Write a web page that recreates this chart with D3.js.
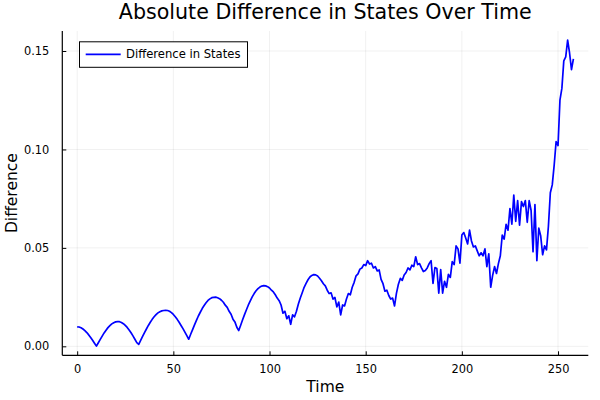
<!DOCTYPE html>
<html>
<head>
<meta charset="utf-8">
<script src="https://cdn.jsdelivr.net/npm/d3@7"></script>
<style>
  html, body { margin: 0; padding: 0; background: #fff; }
  svg { display: block; font-family: "DejaVu Sans", sans-serif; }
</style>
</head>
<body>
<svg id="chart" width="600" height="400"></svg>
<script>
const chartTitle = "Absolute Difference in States Over Time";
const xLabel = "Time";
const yLabel = "Difference";
const seriesName = "Difference in States";
const xTicks = [0, 50, 100, 150, 200, 250];
const yTicks = [0.00, 0.05, 0.10, 0.15];
const yTickLabels = ["0.00", "0.05", "0.10", "0.15"];

// absolute difference at time steps 0..258
const diffValues = [
  0.0099, 0.0098, 0.0094, 0.0088, 0.0080, 0.0070, 0.0058, 0.0045, 0.0031, 0.0016,
  0.0001, 0.0018, 0.0035, 0.0052, 0.0068, 0.0082, 0.0095, 0.0105, 0.0114, 0.0120,
  0.0124, 0.0125, 0.0125, 0.0121, 0.0115, 0.0106, 0.0096, 0.0083, 0.0069, 0.0053,
  0.0036, 0.0019, 0.0010, 0.0030, 0.0050, 0.0070, 0.0088, 0.0106, 0.0122, 0.0137,
  0.0150, 0.0161, 0.0170, 0.0176, 0.0180, 0.0182, 0.0183, 0.0182, 0.0178, 0.0171,
  0.0162, 0.0150, 0.0137, 0.0122, 0.0106, 0.0090, 0.0072, 0.0054, 0.0036, 0.0061,
  0.0085, 0.0109, 0.0132, 0.0154, 0.0173, 0.0192, 0.0207, 0.0221, 0.0233, 0.0241,
  0.0247, 0.0249, 0.0250, 0.0247, 0.0242, 0.0234, 0.0224, 0.0209, 0.0198, 0.0178,
  0.0163, 0.0138, 0.0124, 0.0097, 0.0080, 0.0107, 0.0135, 0.0161, 0.0186, 0.0210,
  0.0231, 0.0251, 0.0268, 0.0282, 0.0293, 0.0301, 0.0306, 0.0308, 0.0307, 0.0303,
  0.0296, 0.0285, 0.0276, 0.0262, 0.0245, 0.0232, 0.0210, 0.0168, 0.0178, 0.0140,
  0.0155, 0.0112, 0.0160, 0.0150, 0.0178, 0.0215, 0.0245, 0.0272, 0.0300, 0.0320,
  0.0338, 0.0352, 0.0360, 0.0364, 0.0363, 0.0357, 0.0346, 0.0333, 0.0318, 0.0307,
  0.0285, 0.0268, 0.0272, 0.0240, 0.0248, 0.0200, 0.0225, 0.0160, 0.0210, 0.0205,
  0.0240, 0.0268, 0.0262, 0.0300, 0.0325, 0.0358, 0.0368, 0.0392, 0.0398, 0.0415,
  0.0410, 0.0435, 0.0418, 0.0422, 0.0398, 0.0405, 0.0383, 0.0388, 0.0340, 0.0318,
  0.0280, 0.0285, 0.0258, 0.0240, 0.0245, 0.0205, 0.0270, 0.0315, 0.0345, 0.0335,
  0.0362, 0.0375, 0.0398, 0.0388, 0.0412, 0.0405, 0.0455, 0.0415, 0.0420, 0.0398,
  0.0380, 0.0385, 0.0398, 0.0420, 0.0435, 0.0320, 0.0400, 0.0395, 0.0270, 0.0390,
  0.0270, 0.0330, 0.0300, 0.0365, 0.0350, 0.0430, 0.0415, 0.0510, 0.0495, 0.0422,
  0.0565, 0.0578, 0.0550, 0.0520, 0.0590, 0.0535, 0.0505, 0.0510, 0.0485, 0.0460,
  0.0475, 0.0460, 0.0495, 0.0405, 0.0470, 0.0300, 0.0360, 0.0405, 0.0370, 0.0420,
  0.0460, 0.0565, 0.0545, 0.0620, 0.0590, 0.0700, 0.0620, 0.0768, 0.0635, 0.0740,
  0.0615, 0.0735, 0.0710, 0.0740, 0.0630, 0.0740, 0.0690, 0.0480, 0.0720, 0.0435,
  0.0600, 0.0560, 0.0465, 0.0510, 0.0490, 0.0610, 0.0780, 0.0820, 0.0920, 0.1040,
  0.1020, 0.1250, 0.1310, 0.1450, 0.1470, 0.1555, 0.1490, 0.1405, 0.1460
];
const timeSteps = d3.range(diffValues.length);

const svg = d3.select("#chart");
const plot = { left: 62.3, right: 588.3, top: 31, bottom: 355.3 };

const xExt = d3.extent(timeSteps);
const yExt = d3.extent(diffValues);
const xPad = (xExt[1] - xExt[0]) * 0.03;
const yPad = (yExt[1] - yExt[0]) * 0.03;

const x = d3.scaleLinear().domain([xExt[0] - xPad, xExt[1] + xPad]).range([plot.left, plot.right]);
const y = d3.scaleLinear().domain([yExt[0] - yPad, yExt[1] + yPad]).range([plot.bottom, plot.top]);

// grid
const grid = svg.append("g").attr("stroke", "#000").attr("stroke-opacity", 0.1).attr("stroke-width", 0.6);
grid.selectAll("line.vx").data(xTicks).join("line")
  .attr("x1", d => x(d)).attr("x2", d => x(d))
  .attr("y1", plot.top).attr("y2", plot.bottom);
grid.selectAll("line.hy").data(yTicks).join("line")
  .attr("x1", plot.left).attr("x2", plot.right)
  .attr("y1", d => y(d)).attr("y2", d => y(d));

// axes
const xAxis = d3.axisBottom(x).tickValues(xTicks).tickSize(-4).tickPadding(10).tickFormat(d3.format("d"));
const yAxis = d3.axisLeft(y).tickValues(yTicks).tickSize(-4).tickPadding(13)
  .tickFormat((d, i) => yTickLabels[i]);

const gx = svg.append("g").attr("transform", `translate(0,${plot.bottom})`).call(xAxis);
const gy = svg.append("g").attr("transform", `translate(${plot.left},0)`).call(yAxis);
[gx, gy].forEach(g => {
  g.select(".domain").remove();
  g.selectAll(".tick line").attr("stroke", "#000").attr("stroke-width", 1);
  g.selectAll(".tick text").attr("fill", "#000").style("font-size", "11.4px")
    .style("font-family", "'DejaVu Sans', sans-serif");
});
svg.append("line").attr("x1", plot.left).attr("x2", plot.right)
  .attr("y1", plot.bottom).attr("y2", plot.bottom).attr("stroke", "#000").attr("stroke-width", 1.2);
svg.append("line").attr("x1", plot.left).attr("x2", plot.left)
  .attr("y1", plot.top).attr("y2", plot.bottom).attr("stroke", "#000").attr("stroke-width", 1.2);

// line
const line = d3.line().x((d, i) => x(timeSteps[i])).y(d => y(d));
svg.append("path").datum(diffValues)
  .attr("fill", "none").attr("stroke", "#0000ff").attr("stroke-width", 1.7)
  .attr("stroke-linejoin", "round").attr("d", line);

// title & labels
svg.append("text").attr("x", (plot.left + plot.right) / 2).attr("y", 18.5)
  .attr("text-anchor", "middle").style("font-size", "20.6px").attr("fill", "#000").text(chartTitle);
svg.append("text").attr("x", (plot.left + plot.right) / 2).attr("y", 392)
  .attr("text-anchor", "middle").style("font-size", "15.5px").attr("fill", "#000").text(xLabel);
svg.append("text").attr("transform", `translate(16.5,${(plot.top + plot.bottom) / 2}) rotate(-90)`)
  .attr("text-anchor", "middle").style("font-size", "15.5px").attr("fill", "#000").text(yLabel);

// legend
const lg = svg.append("g");
lg.append("rect").attr("x", 79.5).attr("y", 41.8).attr("width", 168).attr("height", 25.5)
  .attr("fill", "#fff").attr("stroke", "#000").attr("stroke-width", 1);
lg.append("line").attr("x1", 85.7).attr("x2", 120.7).attr("y1", 54.3).attr("y2", 54.3)
  .attr("stroke", "#0000ff").attr("stroke-width", 1.7);
lg.append("text").attr("x", 126).attr("y", 54.3).attr("dy", "0.35em")
  .style("font-size", "11.6px").attr("fill", "#000").text(seriesName);
</script>
</body>
</html>
